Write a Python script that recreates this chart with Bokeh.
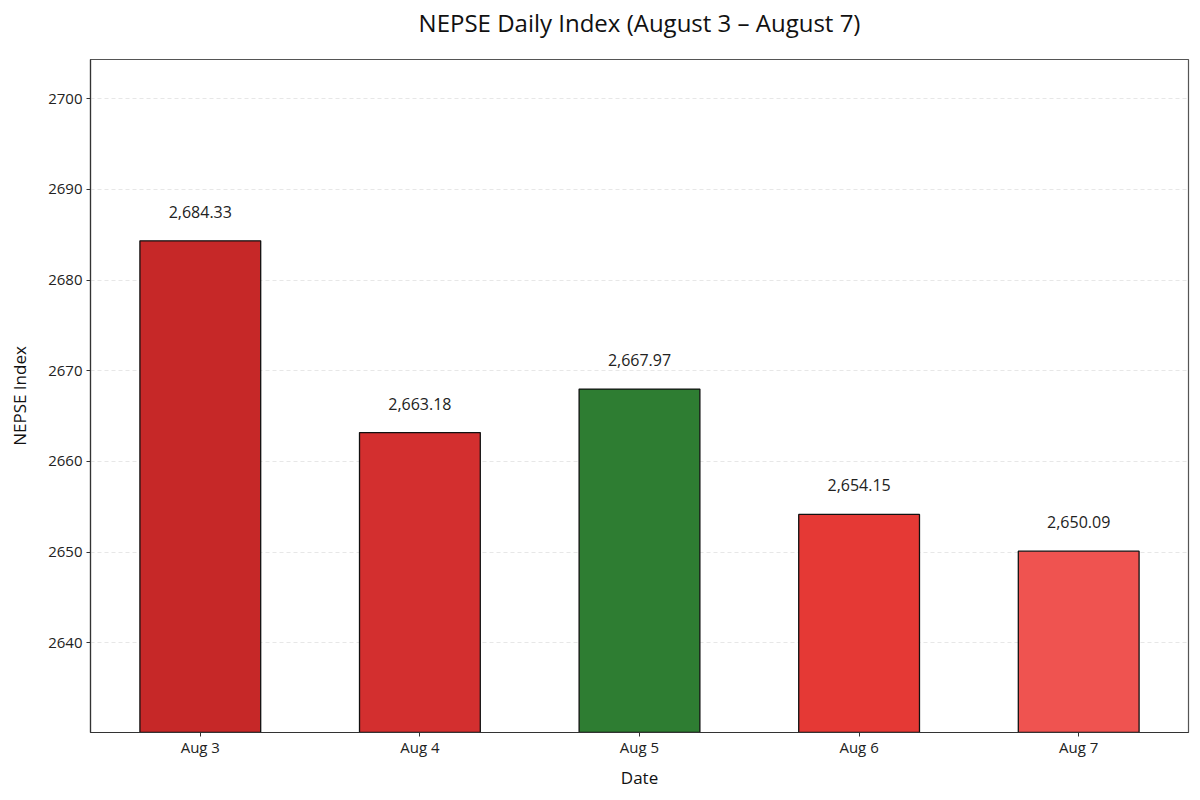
from bokeh.plotting import figure
from bokeh.models import ColumnDataSource, FixedTicker, Range1d, Title
from bokeh.embed import file_html
from bokeh.resources import INLINE

dates = ["Aug 3", "Aug 4", "Aug 5", "Aug 6", "Aug 7"]
values = [2684.33, 2663.18, 2667.97, 2654.15, 2650.09]
colors = ["#C62828", "#D32F2F", "#2E7D32", "#E53935", "#EF5350"]
labels = [f"{v:,.2f}" for v in values]
y_ticks = [2640, 2650, 2660, 2670, 2680, 2690, 2700]
title_text = "NEPSE Daily Index (August 3 – August 7)"

FONT = "Open Sans"

y_lo = min(values) - 20
y_hi = max(values) + 20

src = ColumnDataSource(dict(x=dates, top=values, color=colors, label=labels))

p = figure(x_range=dates, y_range=Range1d(y_lo, y_hi), title=title_text,
           width=1200, height=800, output_backend="svg", toolbar_location=None,
           min_border_left=90, min_border_right=12, min_border_top=59, min_border_bottom=68)

p.vbar(x="x", top="top", bottom=y_lo, width=0.55, source=src,
       fill_color="color", line_color="#111111", line_width=1.3)

p.text(x="x", y="top", text="label", source=src, text_align="center",
       text_baseline="bottom", y_offset=-23, text_font_size="16px",
       text_color="#222222", text_font={"value": FONT})

p.title.align = "center"
p.title.vertical_align = "bottom"
p.title.text_font = FONT
p.title.text_font_size = "24px"
p.title.text_font_style = "normal"
p.title.text_color = "#111111"
p.title.offset = 0
p.title.standoff = 0

# spacer between the title and the plot frame
spacer = Title(text=" ", text_font=FONT, text_font_size="10px", standoff=5)
p.add_layout(spacer, "above")

p.outline_line_color = "#555555"
p.outline_line_width = 1.2

for ax in (p.xaxis[0], p.yaxis[0]):
    ax.axis_line_color = "#333333"
    ax.axis_line_width = 1.2
    ax.major_tick_line_color = "#333333"
    ax.major_tick_out = 4
    ax.major_tick_in = 0
    ax.minor_tick_line_color = None
    ax.major_label_text_font = FONT
    ax.major_label_text_font_size = "15px"
    ax.major_label_text_color = "#222222"
    ax.axis_label_text_font = FONT
    ax.axis_label_text_font_size = "17px"
    ax.axis_label_text_font_style = "normal"
    ax.axis_label_text_color = "#111111"

p.xaxis.axis_label = "Date"
p.yaxis.axis_label = "NEPSE Index"
p.yaxis.ticker = FixedTicker(ticks=y_ticks)
p.xaxis.major_label_standoff = 0
p.yaxis.major_label_standoff = 4
p.xaxis.axis_label_standoff = 6
p.yaxis.axis_label_standoff = 14

p.xgrid.grid_line_color = None
p.ygrid.grid_line_color = "#dddddd"
p.ygrid.grid_line_dash = "4 3"
p.ygrid.grid_line_alpha = 0.7

open("out.html", "w").write(file_html(p, INLINE))
